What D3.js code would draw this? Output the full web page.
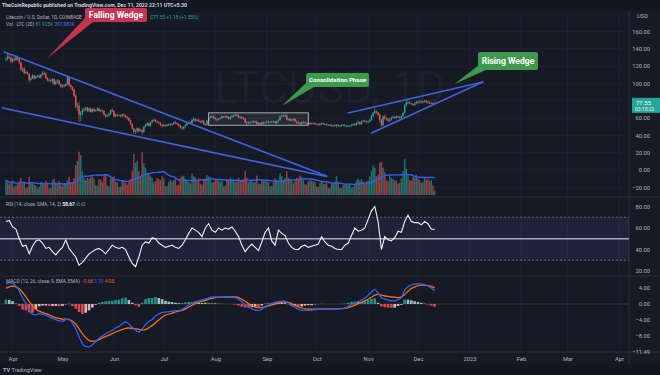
<!DOCTYPE html>
<html>
<head>
<meta charset="utf-8">
<script src="https://cdn.jsdelivr.net/npm/d3@7"></script>
<style>
  body { margin: 0; background: #161a25; }
  svg text { font-family: Roboto, "Noto Sans", sans-serif; }
</style>
</head>
<body>
<div id="chart"></div>
<script>
// ---- data: daily LTC/USD candles from 2022-03-28 ----
var priceStart = "2022-03-28";
var firstOpen = 127;
var closes = [
  128,131,130,125,128,127,130,  128,124,116,117,112,113,111,  104,106,109,106,108,109,107,
  110,112,111,106,104,104,103,  105,99,102,103,99,96,98,      97,99,107,98,96,93,86,
  73,74,64,66,69,70,72,         68,71,67,70,68,69,71,         68,69,68,64,62,63,65,
  69,68,62,64,63,63,62,         64,63,61,60,57,53,48,         44,45,48,45,46,44,50,
  52,54,51,55,57,58,56,         55,54,52,51,52,51,52,         53,52,53,55,54,53,51,
  49,48,50,52,54,55,54,         58,59,57,58,56,55,57,         53,52,57,60,61,62,60,
  59,58,59,60,62,61,62,         61,59,61,62,63,64,63,         61,61,60,59,55,54,55,
  55,56,55,56,53,54,53,         55,54,55,56,55,55,56,         56,54,56,58,62,63,62,
  63,58,59,57,58,59,56,         55,54,53,55,55,54,53,         54,53,54,54,53,53,52,
  53,54,53,53,52,52,52,         51,51,52,52,51,51,52,         52,51,51,51,51,52,53,
  52,54,55,53,56,57,56,         55,56,58,62,66,68,66,         64,58,52,62,60,59,57,
  58,60,61,60,62,61,60,         62,66,75,78,78,77,76,         75,77,79,78,79,78,79,
  80,79,78,77,77,76.37,77.55
];
var highs = [
  130,134,133,131,130,130,132,  132,129,125,118,119,115,114,  112,108,111,110,109,110,110,
  111,114,114,113,107,106,105,  106,106,104,105,104,100,99,   99,100,109,108,99,97,94,
  87,78,78,68,72,72,73,         73,72,72,71,72,70,72,         72,70,70,69,65,64,66,
  70,71,69,65,65,64,64,         65,65,64,62,61,58,54,         49,47,49,49,47,47,51,
  53,55,55,56,58,59,59,         57,56,55,53,53,53,53,         54,54,54,56,57,55,54,
  52,50,51,53,55,56,56,         59,61,60,59,59,57,58,         57,54,58,61,63,63,63,
  61,60,60,61,63,62,63,         63,62,62,64,64,65,65,         64,62,62,61,60,56,56,
  56,57,57,57,57,55,55,         56,56,56,57,57,56,57,         57,57,57,59,63,64,64,
  65,64,60,60,59,60,60,         57,56,56,56,57,56,55,         55,55,55,55,55,54,54,
  54,55,55,54,54,53,53,         53,52,53,53,53,52,53,         53,53,52,52,52,53,54,
  54,55,57,56,57,58,58,         57,57,59,64,67,71,69,         67,65,59,63,64,61,60,
  60,62,63,62,63,63,62,         63,67,76,80,81,79,78,         77,78,80,80,81,80,80,
  81,81,80,79,78,78,78.3
];
var lows = [
  125,127,128,123,124,125,126,  126,122,114,113,110,111,110,  101,103,105,104,105,107,106,
  105,109,109,105,102,102,101,  100,98,98,100,98,95,95,       95,96,98,96,93,91,84,
  71,68,55,56,63,67,68,         67,67,66,66,67,67,68,         67,67,66,63,60,61,62,
  64,67,61,61,62,62,61,         61,61,60,58,56,52,47,         42,42,43,44,44,41,43,
  49,51,50,50,54,56,55,         54,53,51,49,50,50,50,         51,51,51,52,53,52,50,
  48,47,46,49,51,53,53,         53,56,55,56,55,54,54,         52,51,51,56,59,60,59,
  57,56,57,58,59,60,60,         60,58,58,60,61,62,62,         60,59,59,58,54,52,53,
  53,54,54,54,52,52,52,         52,53,53,54,54,54,54,         55,53,53,55,57,61,61,
  61,57,57,56,56,57,55,         53,53,52,52,54,53,52,         52,52,52,53,52,52,51,
  51,52,52,52,51,51,51,         50,50,50,49,50,50,50,         51,50,50,50,50,50,51,
  51,51,53,52,52,55,55,         54,54,55,57,61,65,65,         62,55,50,51,58,57,55,
  55,57,59,59,59,60,59,         59,61,65,73,76,76,75,         74,74,76,76,77,77,77,
  78,77,76,76,76,75.5,76
];
// volume in thousand LTC
var volumes = [
  260,220,190,230,250,140,170,  210,240,300,200,230,120,140,  320,230,200,180,160,110,140,
  230,210,190,250,200,120,130,  260,280,220,200,240,180,150,  210,200,260,320,230,220,300,
  520,600,760,700,420,300,260,  300,280,310,330,290,170,160,  280,270,230,360,350,170,150,
  290,310,330,240,220,140,150,  250,230,210,180,260,280,420,  720,560,600,420,330,750,560,
  480,390,370,330,300,220,240,  300,280,260,330,290,160,150,  230,270,240,260,280,170,180,
  300,340,330,280,250,230,200,  380,330,310,260,290,200,180,  280,290,350,330,310,220,230,
  260,280,250,230,260,150,160,  280,270,300,280,260,230,240,  300,250,260,280,420,300,220,
  260,240,220,230,340,200,190,  260,250,260,240,230,150,160,  220,290,250,260,380,330,260,
  300,420,300,280,260,200,240,  300,290,340,320,260,190,180,  240,260,250,240,230,140,150,
  210,240,200,190,210,120,130,  200,210,240,330,230,130,120,  180,190,180,170,200,120,140,
  200,260,290,250,280,230,200,  240,250,330,420,520,480,330,  360,560,580,480,400,260,240,
  330,300,280,260,250,200,210,  290,420,640,460,350,260,250,  320,300,360,290,260,210,230,
  300,270,280,250,260,170,82
];
// indicator readings, one every 2 days from priceStart
var rsiValues = [
  66,67,61,59,50,43,44,36,43,48,49,46,41,42,38,35,39,42,49,41,
  37,33,25.5,28,32,36,38,40,41,39,36,40,44,42,41,42,40,33,27,24,
  33,44,47,46,51,50,46,44,42,43,44,42,41,44,49,55,60,58,56,52,
  60,64,58,56,60,58,60,59,61,57,52,44,38,42,45,42,39,47,56,60,
  48,44,58,55,53,46,42,40,40,43,44,42,43,44,45,52,47,44,43,41,
  40,40,44,46,53,60,57,58,60,68,76,80,66,40,52,49,48,51,57,56,
  66,72,66,65,65,63,66,64,59,58.67
];
var macdValues = [
  5.0,5.3,5.2,4.4,3.3,1.5,0.2,-1.5,-2.6,-2.7,-2.4,-2.5,-2.8,-3.2,-3.6,-3.9,-4.2,-4.3,-3.9,-3.8,
  -4.8,-6.2,-8.2,-9.9,-10.6,-10.7,-10.2,-9.4,-8.6,-8.0,-7.4,-7.0,-6.6,-6.0,-5.6,-5.0,-4.5,-5.0,-5.8,-6.5,
  -7.0,-6.2,-5.2,-4.4,-3.9,-3.0,-2.5,-2.1,-2.0,-1.9,-1.8,-1.7,-1.6,-1.4,-0.8,-0.3,0.2,0.6,0.8,1.0,
  1.2,1.5,1.7,1.75,1.75,1.8,1.75,1.75,1.7,1.6,1.2,0.5,-0.2,-0.8,-1.2,-1.5,-1.6,-1.3,-0.6,-0.3,
  0.1,0.4,0.6,0.7,0.7,0.3,-0.4,-0.8,-1.3,-1.6,-1.6,-1.6,-1.6,-1.4,-1.3,-1.2,-1.2,-1.2,-1.2,-1.2,
  -1.2,-1.1,-1.0,-0.6,-0.1,0.3,0.6,0.9,1.5,2.2,3.0,3.6,2.7,1.6,1.2,1.0,0.8,0.8,1.1,1.6,
  3.5,4.3,4.8,5.0,5.1,5.0,4.8,4.5,4.0,3.39
];
var signalValues = [
  3.9,4.3,4.5,4.3,3.8,2.9,1.8,0.6,-0.4,-1.3,-1.8,-2.1,-2.4,-2.7,-3.1,-3.4,-3.6,-3.8,-3.8,-3.9,
  -4.3,-5.0,-6.2,-7.4,-8.4,-9.1,-9.3,-9.2,-8.9,-8.5,-8.1,-7.8,-7.4,-7.0,-6.7,-6.4,-6.1,-6.0,-6.1,-6.2,
  -6.3,-6.5,-6.4,-5.9,-5.4,-4.7,-4.0,-3.3,-2.8,-2.5,-2.3,-2.0,-1.8,-1.6,-1.2,-0.8,-0.3,0.1,0.4,0.7,
  0.9,1.2,1.4,1.6,1.7,1.7,1.75,1.75,1.75,1.75,1.6,1.2,0.7,0.1,-0.4,-0.8,-0.9,-0.9,-0.7,-0.5,
  -0.2,0.0,0.2,0.4,0.5,0.4,0.1,-0.3,-0.7,-1.0,-1.2,-1.3,-1.3,-1.3,-1.3,-1.25,-1.2,-1.2,-1.2,-1.2,
  -1.2,-1.15,-1.1,-0.9,-0.6,-0.3,0.1,0.4,0.8,1.2,1.7,2.2,2.4,2.2,2.0,1.9,1.75,1.7,1.6,1.8,
  2.4,3.2,3.9,4.3,4.6,4.7,4.7,4.6,4.4,4.05
];
var priceTicks = [-20, 0, 20, 40, 60, 80, 100, 120, 140, 160];
var rsiTicks = [20, 40, 60, 80];
var macdTicks = [-8, -4, 0, 4];
var macdBottomLabel = "-11.49";
var monthTicks = ["2022-04-01","2022-05-01","2022-06-01","2022-07-01","2022-08-01","2022-09-01",
  "2022-10-01","2022-11-01","2022-12-01","2023-01-01","2023-02-01","2023-03-01","2023-04-01"];
var monthLabels = ["Apr","May","Jun","Jul","Aug","Sep","Oct","Nov","Dec","2023","Feb","Mar","Apr"];
var trendLines = [
  [["2022-03-27", 136.3], ["2022-10-07", -6.9]],
  [["2022-03-26", 71.6], ["2022-10-07", -7.5]],
  [["2022-10-20", 65.8], ["2023-01-09", 101.6]],
  [["2022-11-03", 42.7], ["2023-01-09", 101.6]]
];
var consolidation = { from: "2022-07-28", to: "2022-09-26", top: 66, bottom: 51.7 };
var callouts = [
  { text: "Falling Wedge", date: "2022-04-22", price: 129.3, color: "#c8344f", dx: 37.5, dy: -50, w: 62, h: 14, size: 8.6 },
  { text: "Consolidation Phase", date: "2022-09-10", price: 73.9, color: "#3d9a4a", dx: 24.3, dy: -33, w: 63, h: 14, size: 6.2 },
  { text: "Rising Wedge", date: "2022-12-23", price: 99.3, color: "#3d9a4a", dx: 23.5, dy: -32, w: 60, h: 18, size: 8.6 }
];

// ---- layout ----
var W = 660, H = 375, plotR = 629, labelR = 650;
var parseDate = d3.timeParse("%Y-%m-%d");
var up = "#26a69a", down = "#ef5350", axisColor = "#b2b5be", gridColor = "#1f2330";

var svg = d3.select("#chart").append("svg").attr("width", W).attr("height", H);
svg.append("rect").attr("width", W).attr("height", H).attr("fill", "#161a25");
svg.append("rect").attr("width", W).attr("height", 11).attr("fill", "#131722");
svg.append("rect").attr("y", 364).attr("width", W).attr("height", 11).attr("fill", "#131722");

var x = d3.scaleTime()
  .domain([parseDate("2022-04-01"), parseDate("2023-04-01")])
  .range([12.6, 619]);
var y = d3.scaleLinear().domain([0, 100]).range([170, 83.4]);
var vy = d3.scaleLinear().domain([0, 1000]).range([195, 138]);
var ry = d3.scaleLinear().domain([20, 80]).range([271, 206.5]);
var my = d3.scaleLinear().domain([-8, 4]).range([336, 288]);

var start = parseDate(priceStart);
var bars = closes.map(function(c, i) {
  return {
    date: d3.timeDay.offset(start, i),
    open: i === 0 ? firstOpen : closes[i - 1],
    high: highs[i], low: lows[i], close: c, vol: volumes[i]
  };
});
var ind = rsiValues.map(function(r, i) {
  return { date: d3.timeDay.offset(start, 2 * i), rsi: r, macd: macdValues[i], signal: signalValues[i],
           hist: macdValues[i] - signalValues[i] };
});
var last = bars[bars.length - 1];

// ---- grid ----
var grid = svg.append("g").attr("stroke", gridColor).attr("stroke-width", 0.8);
grid.selectAll("line.v").data(monthTicks).join("line")
  .attr("x1", function(d) { return x(parseDate(d)); })
  .attr("x2", function(d) { return x(parseDate(d)); })
  .attr("y1", 12).attr("y2", 352);
grid.selectAll("line.p").data(priceTicks).join("line")
  .attr("x1", 0).attr("x2", plotR).attr("y1", function(d) { return y(d); }).attr("y2", function(d) { return y(d); });
grid.selectAll("line.m").data(macdTicks).join("line")
  .attr("x1", 0).attr("x2", plotR).attr("y1", function(d) { return my(d); }).attr("y2", function(d) { return my(d); });

// pane separators
svg.append("g").attr("stroke", "#2a2e39").attr("stroke-width", 1)
  .selectAll("line").data([197, 276, 352]).join("line")
  .attr("x1", 0).attr("x2", W).attr("y1", function(d) { return d; }).attr("y2", function(d) { return d; });
svg.append("line").attr("x1", plotR).attr("x2", plotR).attr("y1", 11).attr("y2", 364)
  .attr("stroke", "#2a2e39");

// watermark
svg.append("text").attr("x", 330).attr("y", 103).attr("text-anchor", "middle")
  .attr("font-size", 45).attr("fill", "rgba(255,255,255,0.035)").text("LTCUSD, 1D");

// ---- volume ----
svg.append("g").selectAll("rect").data(bars).join("rect")
  .attr("x", function(d) { return x(d.date) - 0.75; })
  .attr("width", 1.5)
  .attr("y", function(d) { return vy(d.vol); })
  .attr("height", function(d) { return vy(0) - vy(d.vol); })
  .attr("fill", function(d) { return d.close >= d.open ? up : down; })
  .attr("opacity", 0.62);
var volMA = bars.map(function(d, i) {
  var w = volumes.slice(Math.max(0, i - 19), i + 1);
  return { date: d.date, v: d3.mean(w) };
});
svg.append("path").datum(volMA)
  .attr("fill", "none").attr("stroke", "#2f5ff0").attr("stroke-width", 1.4)
  .attr("d", d3.line().x(function(d) { return x(d.date); }).y(function(d) { return vy(d.v); }));

// ---- candles ----
var candles = svg.append("g");
candles.selectAll("line").data(bars).join("line")
  .attr("x1", function(d) { return x(d.date); }).attr("x2", function(d) { return x(d.date); })
  .attr("y1", function(d) { return y(d.high); }).attr("y2", function(d) { return y(d.low); })
  .attr("stroke", function(d) { return d.close >= d.open ? up : down; }).attr("stroke-width", 0.7);
candles.selectAll("rect").data(bars).join("rect")
  .attr("x", function(d) { return x(d.date) - 0.7; })
  .attr("width", 1.4)
  .attr("y", function(d) { return y(Math.max(d.open, d.close)); })
  .attr("height", function(d) { return Math.max(0.8, Math.abs(y(d.open) - y(d.close))); })
  .attr("fill", function(d) { return d.close >= d.open ? up : down; });

// consolidation box
svg.append("rect")
  .attr("x", x(parseDate(consolidation.from)))
  .attr("y", y(consolidation.top))
  .attr("width", x(parseDate(consolidation.to)) - x(parseDate(consolidation.from)))
  .attr("height", y(consolidation.bottom) - y(consolidation.top))
  .attr("fill", "rgba(178,181,190,0.10)").attr("stroke", "#b8bbc4").attr("stroke-width", 0.9);

// trend lines
svg.append("g").selectAll("line").data(trendLines).join("line")
  .attr("x1", function(d) { return x(parseDate(d[0][0])); }).attr("y1", function(d) { return y(d[0][1]); })
  .attr("x2", function(d) { return x(parseDate(d[1][0])); }).attr("y2", function(d) { return y(d[1][1]); })
  .attr("stroke", "#3f63e0").attr("stroke-width", 1.6).attr("stroke-linecap", "round");

// ---- RSI pane ----
svg.append("rect").attr("x", 0).attr("width", plotR)
  .attr("y", ry(70)).attr("height", ry(30) - ry(70)).attr("fill", "rgba(126,87,194,0.13)");
svg.append("g").selectAll("line").data([70, 30]).join("line")
  .attr("x1", 0).attr("x2", plotR).attr("y1", function(d) { return ry(d); }).attr("y2", function(d) { return ry(d); })
  .attr("stroke", "#787b86").attr("stroke-width", 0.8).attr("stroke-dasharray", "2,2");
svg.append("line").attr("x1", 0).attr("x2", plotR).attr("y1", ry(50)).attr("y2", ry(50))
  .attr("stroke", "#a6a9b2").attr("stroke-width", 1.6);
svg.append("path").datum(ind)
  .attr("fill", "none").attr("stroke", "#f2f3f5").attr("stroke-width", 1.1)
  .attr("d", d3.line().x(function(d) { return x(d.date); }).y(function(d) { return ry(d.rsi); }));

// ---- MACD pane ----
svg.append("line").attr("x1", 0).attr("x2", plotR).attr("y1", my(0)).attr("y2", my(0))
  .attr("stroke", "#363a45").attr("stroke-width", 0.8);
svg.append("g").selectAll("rect").data(ind).join("rect")
  .attr("x", function(d) { return x(d.date) - 1.3; })
  .attr("width", 2.6)
  .attr("y", function(d) { return my(Math.max(0, d.hist)); })
  .attr("height", function(d) { return Math.abs(my(d.hist) - my(0)); })
  .attr("fill", function(d, i) {
    var prev = i > 0 ? ind[i - 1].hist : d.hist;
    if (d.hist >= 0) return d.hist >= prev ? "#26a69a" : "#b2dfdb";
    return d.hist < prev ? "#ff5252" : "#ffcdd2";
  })
  .attr("opacity", 0.85);
svg.append("path").datum(ind)
  .attr("fill", "none").attr("stroke", "#ff6d00").attr("stroke-width", 1.3)
  .attr("d", d3.line().curve(d3.curveMonotoneX).x(function(d) { return x(d.date); }).y(function(d) { return my(d.signal); }));
svg.append("path").datum(ind)
  .attr("fill", "none").attr("stroke", "#2962ff").attr("stroke-width", 1.3)
  .attr("d", d3.line().curve(d3.curveMonotoneX).x(function(d) { return x(d.date); }).y(function(d) { return my(d.macd); }));

// ---- legends (drawn before callouts, which sit on top) ----
function legend(xPos, yPos, parts) {
  var t = svg.append("text").attr("x", xPos).attr("y", yPos).attr("dy", "0.35em").attr("font-size", 4.8);
  parts.forEach(function(p) {
    t.append("tspan").attr("fill", p[1]).attr("font-weight", p[2] || "normal").text(p[0]);
  });
}
svg.append("text").attr("x", 2).attr("y", 5.5).attr("dy", "0.35em").attr("font-size", 5.2)
  .attr("fill", "#d1d4dc").attr("font-weight", "bold")
  .text("TheCoinRepublic published on TradingView.com, Dec 11, 2022 22:11 UTC+5:30");
legend(6, 17, [["Litecoin / U.S. Dollar, 1D, COINBASE", "#b2b5be"]]);
legend(150, 17, [["C" + d3.format(".2f")(last.close) + " +1.18 (+1.55%)", up]]);
legend(6, 24, [["Vol \u00b7 LTC (20)  ", "#b2b5be"], ["81.925K  ", up], ["297.081K", "#5b7cf0"]]);
legend(6, 204, [["RSI (14, close, SMA, 14, 2)  ", "#b2b5be"], ["58.67", "#f2f3f5", "bold"], ["  \u2205  \u2205", "#b2b5be"]]);
legend(6, 281, [["MACD (12, 26, close, 9, EMA, EMA)  ", "#b2b5be"], ["\u22120.66  ", "#ff5252"],
             ["3.39  ", "#2962ff"], ["4.05", "#ff6d00"]]);

// ---- callouts ----
callouts.forEach(function(c) {
  var tx = x(parseDate(c.date)), ty = y(c.price);
  var bx = tx + c.dx, by = ty + c.dy;
  var g = svg.append("g");
  g.append("path")
    .attr("d", "M" + tx + "," + ty + "L" + (bx + 1) + "," + (by + c.h - 5) + "L" + (bx + 8) + "," + (by + c.h) + "Z")
    .attr("fill", c.color);
  g.append("rect").attr("x", bx).attr("y", by).attr("width", c.w).attr("height", c.h)
    .attr("rx", 2).attr("fill", c.color);
  g.append("text").attr("x", bx + c.w / 2).attr("y", by + c.h / 2).attr("dy", "0.35em")
    .attr("text-anchor", "middle").attr("font-size", c.size).attr("font-weight", "bold")
    .attr("fill", "#ffffff").text(c.text);
});

// ---- axes ----
function rightAxis(scale, ticks) {
  var a = d3.axisRight(scale).tickValues(ticks).tickSize(0).tickFormat(d3.format(".2f"));
  svg.append("g").attr("transform", "translate(" + plotR + ",0)").call(a)
    .call(function(g) { g.select(".domain").remove(); })
    .selectAll("text").attr("x", labelR - plotR).attr("text-anchor", "end")
    .attr("fill", axisColor).attr("font-size", 5.8);
}
// the 80.00 label sits under the last-price tag
rightAxis(y, priceTicks.filter(function(t) { return Math.abs(y(t) - y(last.close)) > 7; }));
rightAxis(ry, rsiTicks);
rightAxis(my, macdTicks);
svg.append("text").attr("x", labelR).attr("y", 352).attr("dy", "0.32em").attr("text-anchor", "end")
  .attr("fill", axisColor).attr("font-size", 5.8).text(macdBottomLabel.replace("-", "\u2212"));
svg.append("text").attr("x", 637).attr("y", 16).attr("dy", "0.32em")
  .attr("fill", axisColor).attr("font-size", 5.8).text("USD");

var timeAxis = d3.axisBottom(x).tickValues(monthTicks.map(parseDate)).tickSize(0)
  .tickFormat(function(d, i) { return monthLabels[i]; });
svg.append("g").attr("transform", "translate(0,354)").call(timeAxis)
  .call(function(g) { g.select(".domain").remove(); })
  .selectAll("text").attr("fill", axisColor).attr("font-size", 5.8);

// last price label
var ly = y(last.close);
svg.append("rect").attr("x", 632).attr("y", ly - 5).attr("width", 28).attr("height", 15).attr("fill", up);
svg.append("text").attr("x", 636).attr("y", ly).attr("dy", "0.35em").attr("fill", "#fff")
  .attr("font-size", 6).text(d3.format(".2f")(last.close));
svg.append("text").attr("x", 635).attr("y", ly + 6.5).attr("dy", "0.35em").attr("fill", "#e8f5f3")
  .attr("font-size", 5).text("03:18:22");

// footer logo
svg.append("text").attr("x", 3).attr("y", 370).attr("dy", "0.35em").attr("font-size", 5.5)
  .attr("fill", "#b2b5be")
  .call(function(t) {
    t.append("tspan").attr("font-weight", "bold").text("TV ");
    t.append("tspan").text("TradingView");
  });
</script>
</body>
</html>
